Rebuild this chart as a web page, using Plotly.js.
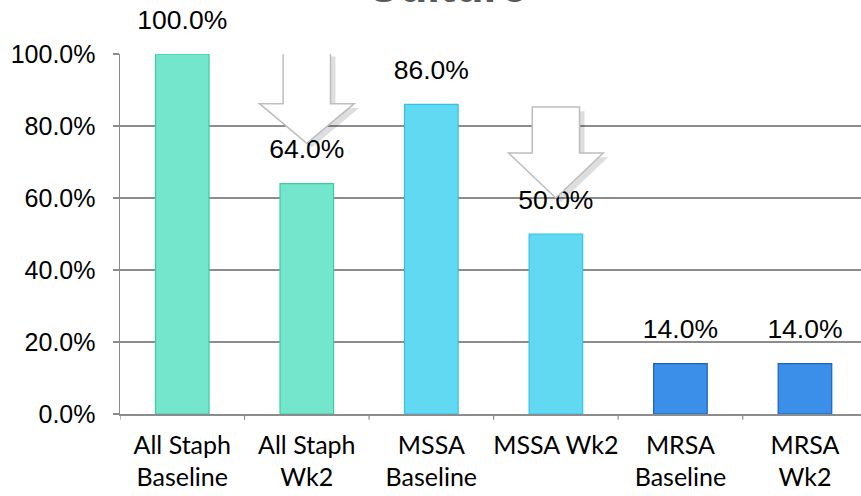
<!DOCTYPE html>
<html>
<head>
<meta charset="utf-8">
<script src="https://cdn.plot.ly/plotly-3.0.1.min.js"></script>
<style>html,body{margin:0;padding:0;background:#fff;}#chart{width:861px;height:496px;}</style>
</head>
<body>
<div id="chart"></div>
<script>
// ---- data ----
const categories = ["All Staph<br>Baseline", "All Staph<br>Wk2", "MSSA<br>Baseline", "MSSA Wk2", "MRSA<br>Baseline", "MRSA<br>Wk2"];
const values = [1.00, 0.64, 0.86, 0.50, 0.14, 0.14];
const labels = ["100.0%", "64.0%", "86.0%", "50.0%", "14.0%", "14.0%"];
const barColors = ["#74e6cc", "#74e6cc", "#62d9f2", "#62d9f2", "#3c8fe8", "#3c8fe8"];
const barLines = ["#3fc9a6", "#3fc9a6", "#35c2e4", "#35c2e4", "#1762c2", "#1762c2"];
const yTickVals = [0, 0.2, 0.4, 0.6, 0.8, 1.0];
const yTickText = ["0.0%", "20.0%", "40.0%", "60.0%", "80.0%", "100.0%"];
const titleText = "Culture";

// ---- decorative down-arrows (on Wk2 bars) ----
const arrowCats = [1, 3];
const arrowGeom = [
  {top: 1.005, shaftBottom: 0.862, tip: 0.752},
  {top: 0.853, shaftBottom: 0.725, tip: 0.600}
];
function arrowPath(c, g, dx, dy) {
  const sw = 0.19, hw = 0.38;
  const pts = [
    [c - sw, g.top], [c + sw, g.top], [c + sw, g.shaftBottom], [c + hw, g.shaftBottom],
    [c, g.tip], [c - hw, g.shaftBottom], [c - sw, g.shaftBottom]
  ];
  return "M" + pts.map(p => (p[0] + dx) + "," + (p[1] + dy)).join(" L") + " Z";
}
const shapes = [];
arrowCats.forEach((c, i) => {
  shapes.push({type: "path", xref: "x", yref: "y", layer: "above",
    path: arrowPath(c, arrowGeom[i], 0.04, -0.012),
    fillcolor: "rgba(0,0,0,0.13)", line: {width: 0}});
  shapes.push({type: "path", xref: "x", yref: "y", layer: "above",
    path: arrowPath(c, arrowGeom[i], 0, 0),
    fillcolor: "#ffffff", line: {color: "#bdbdbd", width: 1.5}});
});

const xIdx = categories.map((_, i) => i);

const traces = [
  {
    type: "bar", x: xIdx, y: values, width: 0.43,
    marker: {color: barColors, line: {color: barLines, width: 1.2}},
    hoverinfo: "skip"
  },
  {
    type: "scatter", mode: "markers+text", x: xIdx, y: values,
    text: labels, textposition: "top center",
    marker: {size: 28, opacity: 0},
    textfont: {family: "Liberation Sans, Arial, sans-serif", size: 26.5, color: "#000"},
    hoverinfo: "skip", cliponaxis: false
  }
];

const layout = {
  width: 861, height: 496,
  margin: {l: 120, r: 0, t: 54, b: 82, pad: 0},
  paper_bgcolor: "#fff", plot_bgcolor: "#fff",
  showlegend: false,
  xaxis: {
    type: "linear", range: [-0.5, 5.45],
    tickmode: "array", tickvals: xIdx, ticktext: categories,
    showgrid: false, zeroline: false,
    showline: true, linecolor: "#8c8c8c", linewidth: 1.5,
    ticks: "", ticklabelstandoff: 8,
    tickfont: {family: "Lato, sans-serif", size: 25, color: "#000"}
  },
  yaxis: {
    range: [0, 1.0], tickmode: "array", tickvals: yTickVals, ticktext: yTickText,
    showgrid: true, gridcolor: "#8c8c8c", gridwidth: 1.2,
    zeroline: false, showline: true, linecolor: "#8c8c8c", linewidth: 1.5,
    ticks: "outside", ticklen: 6, tickcolor: "#8c8c8c", tickwidth: 1.2,
    ticklabelstandoff: 12,
    tickfont: {family: "Liberation Sans, Arial, sans-serif", size: 25, color: "#000"}
  },
  shapes: shapes.concat(
    [-0.5, 0.5, 1.5, 2.5, 3.5, 4.5].map(b => ({type: "line", xref: "x", yref: "paper",
      x0: b, x1: b, y0: 0, y1: -0.016, line: {color: "#8c8c8c", width: 1.2}}))
  ),
  annotations: [{
    text: "<b>" + titleText + "</b>", xref: "paper", yref: "paper",
    x: 0.44, y: 1, xanchor: "center", yanchor: "bottom", yshift: 40, showarrow: false,
    font: {family: "Liberation Sans, Arial, sans-serif", size: 46, color: "#595959"}
  }]
};

Plotly.newPlot("chart", traces, layout, {displayModeBar: false, staticPlot: true});
</script>
</body>
</html>
